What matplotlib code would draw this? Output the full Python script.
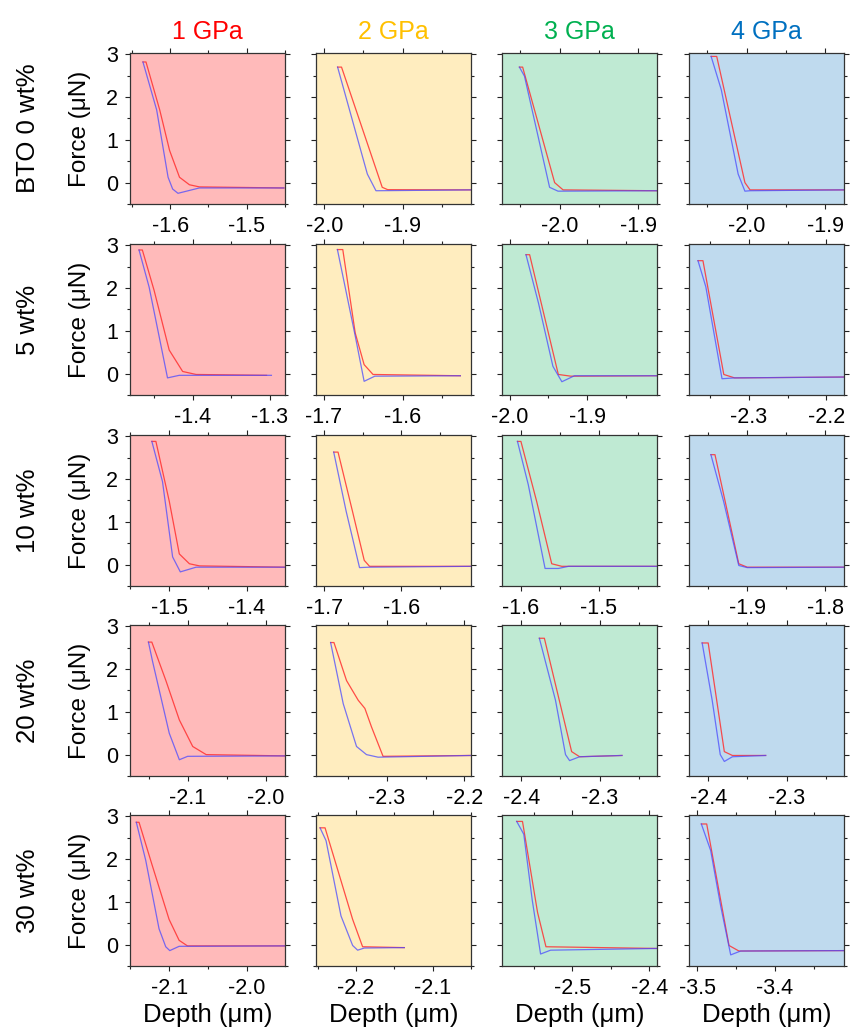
import matplotlib
matplotlib.use("Agg")
import matplotlib.pyplot as plt
from matplotlib.ticker import MultipleLocator, FormatStrFormatter

plt.rcParams['font.family'] = ['Liberation Sans', 'DejaVu Sans']
plt.rcParams['axes.unicode_minus'] = False

# labels
pressures = ['1 GPa', '2 GPa', '3 GPa', '4 GPa']
compositions = ['BTO 0 wt%', '5 wt%', '10 wt%', '20 wt%', '30 wt%']

# depth window of every panel (row = composition, col = pressure)
xlim_0 = [(-1.653, -1.4495), (-2.0106, -1.8126), (-2.0732, -1.8765), (-2.0731, -1.8763)]
xlim_5 = [(-1.4812, -1.2804), (-1.710, -1.5132), (-2.0102, -1.8093), (-2.3773, -2.1773)]
xlim_10 = [(-1.5505, -1.3512), (-1.7108, -1.5096), (-1.6237, -1.4254), (-1.9744, -1.7763)]
xlim_20 = [(-2.1737, -1.9755), (-2.3918, -2.1914), (-2.4245, -2.2266), (-2.4245, -2.2266)]
xlim_30 = [(-2.1502, -1.9511), (-2.2522, -2.05), (-2.5913, -2.39), (-3.5108, -3.3112)]

# BTO 0 wt%
red_x_0 = [[-1.636, -1.632, -1.614, -1.601, -1.588, -1.575, -1.562, -1.451],
           [-1.983, -1.978, -1.926, -1.919, -1.813],
           [-2.0511, -2.047, -2.0064, -1.9957, -1.8765],
           [-2.045, -2.0379, -2.0021, -1.9956, -1.8763]]
red_y_0 = [[2.82, 2.82, 1.70, 0.75, 0.125, -0.05, -0.10, -0.125],
           [2.70, 2.70, -0.11, -0.165, -0.17],
           [2.70, 2.70, 0.0, -0.17, -0.19],
           [2.95, 2.95, 0.0, -0.17, -0.17]]
blue_x_0 = [[-1.636, -1.618, -1.603, -1.597, -1.590, -1.562, -1.451],
            [-1.983, -1.945, -1.934, -1.813],
            [-2.0511, -2.0447, -2.0128, -2.0021, -1.8765],
            [-2.045, -2.0321, -2.0107, -2.0021, -1.9956, -1.8763]]
blue_y_0 = [[2.82, 1.70, 0.125, -0.15, -0.25, -0.125, -0.125],
            [2.70, 0.20, -0.19, -0.17],
            [2.70, 2.49, -0.11, -0.20, -0.19],
            [2.95, 2.17, 0.20, -0.20, -0.19, -0.17]]

# 5 wt%
red_x_5 = [[-1.4695, -1.4652, -1.4499, -1.4304, -1.4130, -1.3956, -1.3043],
           [-1.6828, -1.676, -1.6602, -1.6489, -1.6376, -1.5267],
           [-1.9791, -1.9744, -1.9372, -1.9209, -1.8093],
           [-2.3657, -2.3593, -2.3324, -2.3185, -2.1773]]
red_y_5 = [[2.89, 2.89, 1.94, 0.55, 0.05, -0.02, -0.04],
           [2.90, 2.90, 0.95, 0.21, -0.02, -0.05],
           [2.78, 2.78, -0.02, -0.06, -0.05],
           [2.64, 2.64, -0.02, -0.10, -0.08]]
blue_x_5 = [[-1.4695, -1.4564, -1.4326, -1.4174, -1.298],
            [-1.6828, -1.6602, -1.6489, -1.6353, -1.5267],
            [-1.9791, -1.9628, -1.9442, -1.9326, -1.9163, -1.8093],
            [-2.3657, -2.3556, -2.3347, -2.3185, -2.1773]]
blue_y_5 = [[2.89, 2.02, -0.10, -0.04, -0.04],
            [2.90, 0.88, -0.18, -0.06, -0.05],
            [2.78, 1.64, 0.17, -0.19, -0.05, -0.05],
            [2.64, 2.03, -0.12, -0.10, -0.08]]

# 10 wt%
red_x_10 = [[-1.5224, -1.5172, -1.5, -1.4871, -1.4741, -1.4612, -1.3512],
            [-1.6878, -1.6822, -1.6635, -1.6482, -1.6413, -1.5096],
            [-1.6039, -1.5995, -1.5794, -1.5601, -1.5472, -1.4254],
            [-1.9464, -1.9412, -1.9108, -1.9, -1.7763]]
red_y_10 = [[2.88, 2.88, 1.48, 0.25, 0.02, -0.03, -0.06],
            [2.63, 2.63, 1.25, 0.10, -0.04, -0.04],
            [2.88, 2.88, 1.48, 0.02, -0.04, -0.04],
            [2.57, 2.57, 0.02, -0.06, -0.06]]
blue_x_10 = [[-1.5224, -1.5087, -1.4957, -1.4858, -1.4655, -1.3512],
             [-1.6878, -1.6717, -1.6543, -1.6413, -1.5096],
             [-1.6039, -1.5901, -1.5686, -1.5515, -1.5386, -1.4254],
             [-1.9464, -1.9302, -1.9108, -1.9, -1.7763]]
blue_y_10 = [[2.88, 1.94, 0.18, -0.17, -0.06, -0.06],
             [2.63, 1.25, -0.07, -0.06, -0.04],
             [2.88, 1.87, -0.09, -0.09, -0.04, -0.04],
             [2.57, 1.48, -0.02, -0.07, -0.06]]

# 20 wt%
red_x_20 = [[-2.1501, -2.1458, -2.1278, -2.1106, -2.0935, -2.0763, -1.9755],
            [-2.3729, -2.3686, -2.3523, -2.3372, -2.3286, -2.3201, -2.3051, -2.1914],
            [-2.3768, -2.3704, -2.3356, -2.3254, -2.2713],
            [-2.4077, -2.4, -2.3794, -2.3691, -2.3266]]
red_y_20 = [[2.63, 2.63, 1.73, 0.81, 0.19, 0.0, -0.03],
            [2.62, 2.62, 1.73, 1.27, 1.08, 0.65, -0.04, -0.02],
            [2.72, 2.72, 0.07, -0.05, -0.02],
            [2.61, 2.61, 0.07, -0.02, -0.02]]
blue_x_20 = [[-2.1501, -2.1450, -2.1235, -2.1106, -2.1, -1.9755],
             [-2.3729, -2.3566, -2.3394, -2.3265, -2.3116, -2.1914],
             [-2.3768, -2.3562, -2.3434, -2.3382, -2.3254, -2.2713],
             [-2.4077, -2.3949, -2.3846, -2.3794, -2.3691, -2.3266]]
blue_y_20 = [[2.63, 2.19, 0.50, -0.12, -0.04, -0.03],
             [2.62, 1.19, 0.19, 0.0, -0.06, -0.02],
             [2.72, 1.27, 0.0, -0.14, -0.05, -0.02],
             [2.61, 1.27, 0.0, -0.16, -0.05, -0.02]]

# 30 wt%
red_x_30 = [[-2.1421, -2.1386, -2.1223, -2.1, -2.0871, -2.0764, -1.9511],
            [-2.2469, -2.2404, -2.2044, -2.1914, -2.137],
            [-2.5722, -2.5647, -2.5451, -2.5342, -2.39],
            [-3.4949, -3.488, -3.4593, -3.4465, -3.3113]]
red_y_30 = [[2.86, 2.86, 1.89, 0.59, 0.10, -0.03, -0.03],
            [2.73, 2.73, 0.59, -0.05, -0.07],
            [2.88, 2.88, 0.75, -0.05, -0.09],
            [2.82, 2.82, -0.02, -0.15, -0.14]]
blue_x_30 = [[-2.1421, -2.1300, -2.1129, -2.1043, -2.0991, -2.0871, -1.9511],
             [-2.2469, -2.2391, -2.2196, -2.2044, -2.1979, -2.1892, -2.137],
             [-2.5722, -2.5630, -2.5521, -2.5412, -2.5282, -2.39],
             [-3.4949, -3.4829, -3.4700, -3.4571, -3.4443, -3.3113]]
blue_y_30 = [[2.86, 1.97, 0.37, -0.05, -0.14, -0.04, -0.03],
             [2.73, 2.43, 0.67, -0.02, -0.13, -0.08, -0.07],
             [2.88, 2.58, 1.05, -0.22, -0.13, -0.09],
             [2.82, 2.20, 0.90, -0.24, -0.15, -0.14]]

xlims = [xlim_0, xlim_5, xlim_10, xlim_20, xlim_30]
red_x = [red_x_0, red_x_5, red_x_10, red_x_20, red_x_30]
red_y = [red_y_0, red_y_5, red_y_10, red_y_20, red_y_30]
blue_x = [blue_x_0, blue_x_5, blue_x_10, blue_x_20, blue_x_30]
blue_y = [blue_y_0, blue_y_5, blue_y_10, blue_y_20, blue_y_30]

title_colors = ['#FF0000', '#FFC000', '#00B050', '#0070C0']
bg_colors = ['#FFBABA', '#FFEDBF', '#BFEAD3', '#BFDAEE']

W, H = 850, 1034
col_left = [130, 316, 502, 689]
panel_w = 155
row_top = [53, 244, 435, 625, 815]
panel_h = 151

fig = plt.figure(figsize=(W / 100, H / 100), dpi=100)

for r in range(5):
    for c in range(4):
        ax = fig.add_axes([col_left[c] / W, 1 - (row_top[r] + panel_h) / H,
                           panel_w / W, panel_h / H])
        ax.set_facecolor(bg_colors[c])
        ax.plot(red_x[r][c], red_y[r][c], color='#FF3030', lw=0.9, alpha=0.85)
        ax.plot(blue_x[r][c], blue_y[r][c], color='#4A4AFF', lw=0.9, alpha=0.75)
        ax.set_xlim(xlims[r][c])
        ax.set_ylim(-0.5, 3.03)
        ax.xaxis.set_major_locator(MultipleLocator(0.1))
        ax.xaxis.set_minor_locator(MultipleLocator(0.05))
        ax.xaxis.set_major_formatter(FormatStrFormatter('%.1f'))
        ax.yaxis.set_major_locator(MultipleLocator(1))
        ax.yaxis.set_minor_locator(MultipleLocator(0.5))
        ax.tick_params(which='both', direction='out', top=True, right=True,
                       width=0.8, color='#222222', labelsize=15.5, pad=5)
        ax.tick_params(which='major', length=3.5)
        ax.tick_params(which='minor', length=2)
        if c > 0:
            ax.tick_params(labelleft=False)
        for s in ax.spines.values():
            s.set_linewidth(0.9)
            s.set_color('#333333')
        if r == 0:
            ax.set_title(pressures[c], color=title_colors[c], fontsize=18, pad=10)
        if r == 4:
            ax.set_xlabel('Depth (μm)', fontsize=18.5, labelpad=3)
        if c == 0:
            ax.set_ylabel('Force (μN)', fontsize=17.5, labelpad=11)
            yc = 1 - (row_top[r] + panel_h / 2) / H
            fig.text(28 / W, yc, compositions[r], rotation=90, fontsize=18.5,
                     ha='center', va='center')

fig.savefig('out.png', dpi=100)
